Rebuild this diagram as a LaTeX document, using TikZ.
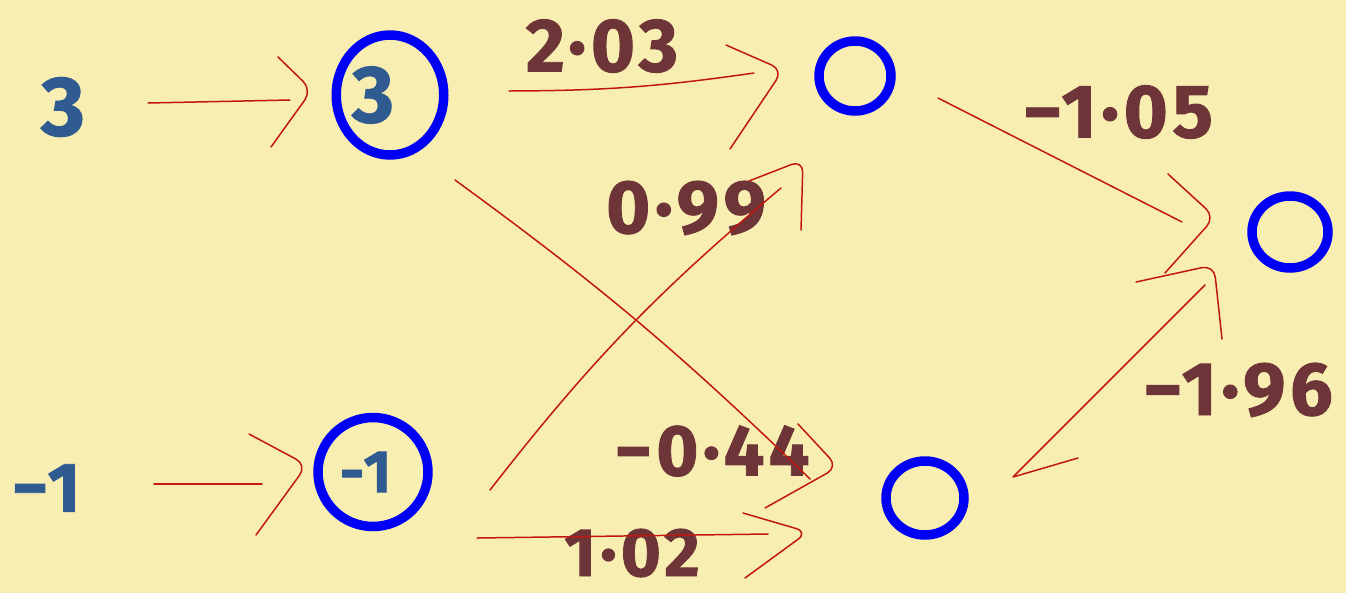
\documentclass[tikz,border=0pt]{standalone}
\usepackage{fontspec}
\setmainfont{Fira Sans}
\newfontfamily\hand{Fira Sans}[UprightFont=*-Bold, FakeBold=1.2, LetterSpace=6]
\usetikzlibrary{calc,shapes.geometric}
\definecolor{bgyellow}{HTML}{F9EEB2}
\definecolor{wirered}{HTML}{C2170F}
\definecolor{unitblue}{HTML}{0000F5}
\definecolor{slate}{HTML}{305B91}
\definecolor{wtbrown}{HTML}{6D3537}
\begin{document}
\begin{tikzpicture}[x=0.02cm,y=-0.02cm,
  wire/.style={draw=wirered, line width=0.85pt, line cap=round, line join=round},
  barb/.style={wire, rounded corners=7pt},
  unit/.style={ellipse, draw=unitblue, line width=5.4pt, inner sep=0pt},
  val/.style={text=slate, inner sep=0pt},
  wt/.style={text=wtbrown, inner sep=0pt, font=\hand\fontsize{43}{43}\selectfont}]
\fill[bgyellow] (0,0) rectangle (1346,593);
\useasboundingbox (0,0) rectangle (1346,593);

% inputs
\node[val, font=\hand\fontsize{48}{48}\selectfont] (in1) at (63,107) {3};
\node[val, font=\hand\fontsize{40}{40}\selectfont] (in2) at (46,488) {−1};

% units
\node[unit, minimum width=2.1cm, minimum height=2.4cm, text=slate,
      font=\hand\fontsize{46}{46}\selectfont] (n3) at (390,95) {3\kern0.68cm};
\node[unit, minimum width=2.2cm, minimum height=2.18cm, text=slate,
      font=\hand\fontsize{34}{34}\selectfont] (nm1) at (373,472) {-1\kern0.3cm};
\node[unit, minimum width=1.44cm, minimum height=1.40cm] (h1) at (855,76) {};
\node[unit, minimum width=1.56cm, minimum height=1.48cm] (h2) at (925,498) {};
\node[unit, minimum width=1.52cm, minimum height=1.44cm] (out) at (1290,232) {};

% weights
\node[wt] (w1) at (602,46) {2·03};
\node[wt] (w2) at (686,208) {0·99};
\node[wt] (w3) at (1118,112) {−1·05};
\node[wt, font=\hand\fontsize{41}{41}\selectfont] (w4) at (712,451) {−0·44};
\node[wt, font=\hand\fontsize{39}{39}\selectfont] (w5) at (632,553) {1·02};
\node[wt] (w6) at (1238,390) {−1·96};

% connectors: input -> first layer
\draw[wire] ($(in1)+(85,-4)$) -- ($(n3)+(-100,5)$);
\draw[barb] ($(n3)+(-112,-38)$) -- ($(n3)+(-78,-5)$) -- ($(n3)+(-119,52)$);
\draw[wire] ($(in2)+(108,-4)$) -- ($(nm1)+(-111,12)$);
\draw[barb] ($(nm1)+(-124,-38)$) -- ($(nm1)+(-66,-7)$) -- ($(nm1)+(-117,63)$);

% first layer -> hidden
\draw[wire] ($(n3)+(119,-4)$) to[bend right=4] ($(h1)+(-101,-3)$);
\draw[barb] ($(h1)+(-129,-31)$) -- ($(h1)+(-72,-6)$) -- ($(h1)+(-125,73)$);

\draw[wire] ($(nm1)+(117,18)$) to[bend left=6] ($(h1)+(-74,112)$);
\draw[barb] ($(h1)+(-106,105)$) -- ($(h1)+(-52,84)$) -- ($(h1)+(-54,154)$);

\draw[wire] ($(n3)+(65,85)$) to[bend left=4] ($(h2)+(-115,-19)$);
\draw[barb] ($(h2)+(-127,-74)$) -- ($(h2)+(-87,-31)$) -- ($(h2)+(-160,10)$);

\draw[wire] ($(nm1)+(104,66)$) -- ($(h2)+(-157,36)$);
\draw[barb] ($(h2)+(-182,15)$) -- ($(h2)+(-117,34)$) -- ($(h2)+(-180,80)$);

% hidden -> output
\draw[wire] ($(h1)+(83,22)$) -- ($(out)+(-108,-10)$);
\draw[barb] ($(out)+(-122,-58)$) -- ($(out)+(-75,-15)$) -- ($(out)+(-125,41)$);

\draw[wire] ($(h2)+(153,-40)$) -- ($(h2)+(88,-21)$) -- ($(out)+(-85,53)$);
\draw[barb] ($(out)+(-154,50)$) -- ($(out)+(-76,33)$) -- ($(out)+(-68,107)$);
\end{tikzpicture}
\end{document}
